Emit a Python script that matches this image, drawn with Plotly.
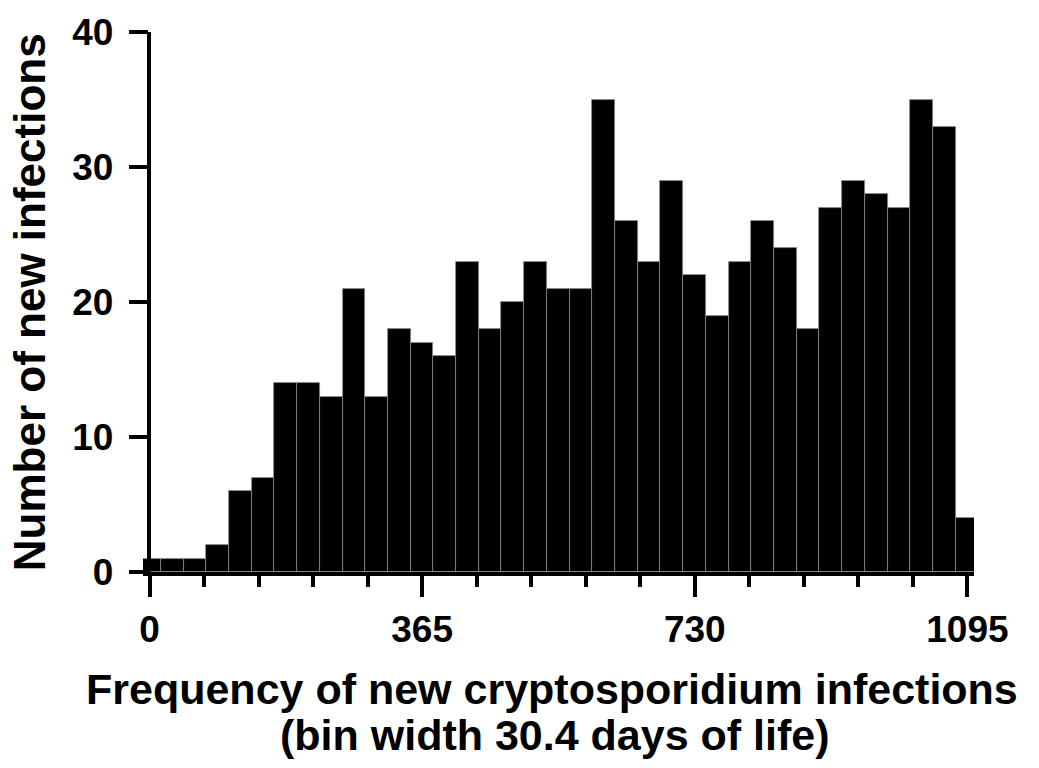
import plotly.graph_objects as go

# Histogram of new infections per 30.4-day bin of life (bins centred on k * 30.4 days)
bin_width = 30.4
counts = [1, 1, 1, 2, 6, 7, 14, 14, 13, 21, 13, 18, 17, 16, 23, 18, 20, 23, 21, 21,
          35, 26, 23, 29, 22, 19, 23, 26, 24, 18, 27, 29, 28, 27, 35, 33, 4]
x_tick_vals = [0, 365, 730, 1095]
x_tick_text = ["0", "365", "730", "1095"]
y_tick_vals = [0, 10, 20, 30, 40]

bin_centres = [i * bin_width for i in range(len(counts))]

x_min, x_max = -8.7, 1103.8
font_family = "Liberation Sans, Arial, Helvetica, sans-serif"

fig = go.Figure(
    go.Bar(
        x=bin_centres,
        y=counts,
        width=bin_width,
        marker=dict(color="black", line=dict(color="#8a8a8a", width=0.8)),
        hoverinfo="x+y",
    )
)

fig.update_layout(
    width=1039,
    height=768,
    margin=dict(l=143, r=65, t=29, b=196, pad=0),
    plot_bgcolor="white",
    paper_bgcolor="white",
    showlegend=False,
    bargap=0,
    font=dict(family=font_family, color="black", size=34, weight="bold"),
    xaxis=dict(
        range=[x_min, x_max],
        showgrid=False,
        zeroline=False,
        showline=True,
        linecolor="black",
        linewidth=3.5,
        ticks="outside",
        ticklen=21,
        tickwidth=3.5,
        tickcolor="black",
        tickvals=x_tick_vals,
        ticktext=x_tick_text,
        tickfont=dict(size=37, family=font_family, weight="bold"),
        ticklabelstandoff=1,
        minor=dict(
            tick0=0,
            dtick=73,
            ticks="outside",
            ticklen=11,
            tickwidth=3.5,
            tickcolor="black",
            showgrid=False,
        ),
    ),
    yaxis=dict(
        range=[0, 40],
        anchor="free",
        position=(0 - x_min) / (x_max - x_min),
        showgrid=False,
        zeroline=False,
        showline=True,
        linecolor="black",
        linewidth=3.5,
        ticks="outside",
        ticklen=19,
        tickwidth=3.5,
        tickcolor="black",
        tickvals=y_tick_vals,
        tickfont=dict(size=37, family=font_family, weight="bold"),
        ticklabelstandoff=8,
    ),
    annotations=[
        dict(
            text="Frequency of new cryptosporidium infections",
            xref="paper", yref="paper",
            x=0.492, y=-0.217,
            xanchor="center", yanchor="middle",
            showarrow=False,
            font=dict(size=43, family=font_family, weight="bold"),
        ),
        dict(
            text="(bin width 30.4 days of life)",
            xref="paper", yref="paper",
            x=0.496, y=-0.302,
            xanchor="center", yanchor="middle",
            showarrow=False,
            font=dict(size=43, family=font_family, weight="bold"),
        ),
        dict(
            text="Number of new infections",
            xref="paper", yref="paper",
            x=-0.137, y=0.50,
            xanchor="center", yanchor="middle",
            textangle=-90,
            showarrow=False,
            font=dict(size=44, family=font_family, weight="bold"),
        ),
    ],
)

fig.write_html("out.html")
